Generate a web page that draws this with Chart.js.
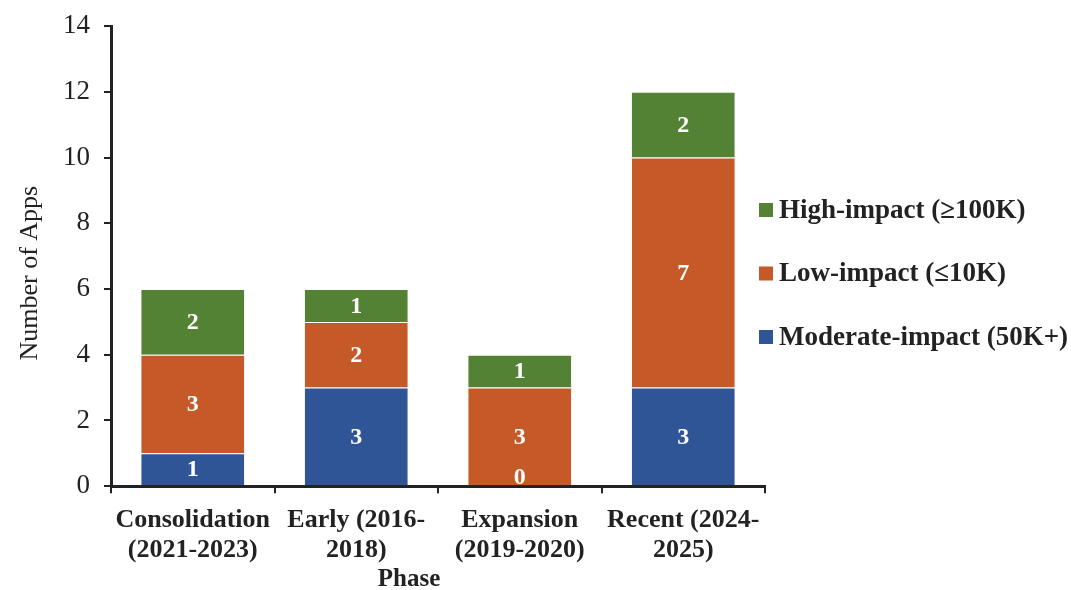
<!DOCTYPE html>
<html>
<head>
<meta charset="utf-8">
<script src="https://cdn.jsdelivr.net/npm/chart.js@4.4.1/dist/chart.umd.min.js"></script>
<style>
    body { margin: 0; background: #fff; }
    #wrap { width: 1071px; height: 590px; position: relative; }
</style>
</head>
<body>
<div id="wrap"><canvas id="mine"></canvas></div>
<script>
    const phases = [
        ["Consolidation", "(2021-2023)"],
        ["Early (2016-", "2018)"],
        ["Expansion", "(2019-2020)"],
        ["Recent (2024-", "2025)"]
    ];
    const moderate = [1, 3, 0, 3];
    const low = [3, 2, 3, 7];
    const high = [2, 1, 1, 2];
    const yTicks = [0, 2, 4, 6, 8, 10, 12, 14];

    const serif = "'Liberation Serif', 'Times New Roman', serif";

    // white numbers in the middle of each segment
    const barLabels = {
        id: "barLabels",
        afterDatasetsDraw(chart) {
            const ctx = chart.ctx;
            ctx.save();
            ctx.font = "bold 24px " + serif;
            ctx.fillStyle = "#fff";
            ctx.textAlign = "center";
            ctx.textBaseline = "middle";
            chart.data.datasets.forEach((ds, i) => {
                chart.getDatasetMeta(i).data.forEach((bar, j) => {
                    let y = (bar.y + bar.base) / 2;
                    if (y > bar.base - 9) y = bar.base - 9;
                    ctx.fillText(ds.data[j], bar.x, y + 1);
                });
            });
            ctx.restore();
        }
    };

    // legend on the right, top item = last dataset
    const sideLegend = {
        id: "sideLegend",
        afterDraw(chart) {
            const ctx = chart.ctx;
            const a = chart.chartArea;
            ctx.save();
            ctx.font = "bold 27px " + serif;
            ctx.textBaseline = "middle";
            const items = chart.data.datasets.slice().reverse();
            items.forEach((ds, k) => {
                const y = 210 + k * 63.5;
                ctx.fillStyle = ds.backgroundColor;
                ctx.fillRect(a.right - 6, y - 7, 14, 14);
                ctx.fillStyle = "#222";
                ctx.fillText(ds.label, a.right + 14, y + 1);
            });
            ctx.restore();
        }
    };

    // axis titles drawn by hand to match their offsets
    const axisTitles = {
        id: "axisTitles",
        afterDraw(chart) {
            const ctx = chart.ctx;
            const a = chart.chartArea;
            ctx.save();
            ctx.fillStyle = "#222";
            ctx.textAlign = "center";
            ctx.textBaseline = "middle";
            ctx.font = "bold 25px " + serif;
            ctx.fillText("Phase", (a.left + a.right) / 2 - 29, 580);
            ctx.translate(30, (a.top + a.bottom) / 2 + 17);
            ctx.rotate(-Math.PI / 2);
            ctx.font = "26px " + serif;
            ctx.fillText("Number of Apps", 0, 0);
            ctx.restore();
        }
    };

    new Chart(document.getElementById("mine").getContext("2d"), {
        type: "bar",
        data: {
            labels: phases,
            datasets: [
                { label: "Moderate-impact (50K+)", data: moderate, backgroundColor: "#2F5597" },
                { label: "Low-impact (\u226410K)", data: low, backgroundColor: "#C55A28" },
                { label: "High-impact (\u2265100K)", data: high, backgroundColor: "#548235" }
            ].map(d => Object.assign(d, {
                borderColor: "rgba(255,255,255,0.6)",
                borderWidth: 1,
                categoryPercentage: 0.64,
                barPercentage: 1
            }))
        },
        options: {
            responsive: true,
            maintainAspectRatio: false,
            animation: { duration: 0 },
            layout: { padding: { top: 10, bottom: 13, left: 49, right: 306 } },
            plugins: {
                tooltip: { enabled: false },
                legend: { display: false }
            },
            scales: {
                x: {
                    stacked: true,
                    grid: {
                        display: true,
                        drawOnChartArea: false,
                        drawTicks: true,
                        tickLength: 7,
                        color: "#222",
                        lineWidth: 2
                    },
                    border: { display: true, color: "#222", width: 3 },
                    ticks: {
                        font: { family: serif, size: 26, weight: "bold", lineHeight: 1.15 },
                        color: "#222",
                        maxRotation: 0,
                        autoSkip: false,
                        padding: 12
                    }
                },
                y: {
                    stacked: true,
                    min: 0,
                    max: 14,
                    afterBuildTicks: s => { s.ticks = yTicks.map(v => ({ value: v })); },
                    grid: {
                        display: true,
                        drawOnChartArea: false,
                        drawTicks: true,
                        tickLength: 7,
                        color: "#222",
                        lineWidth: 2
                    },
                    border: { display: true, color: "#222", width: 3 },
                    ticks: {
                        font: { family: serif, size: 27, lineHeight: 0.9 },
                        color: "#222",
                        padding: 14
                    }
                }
            }
        },
        plugins: [barLabels, sideLegend, axisTitles]
    });
</script>
</body>
</html>
